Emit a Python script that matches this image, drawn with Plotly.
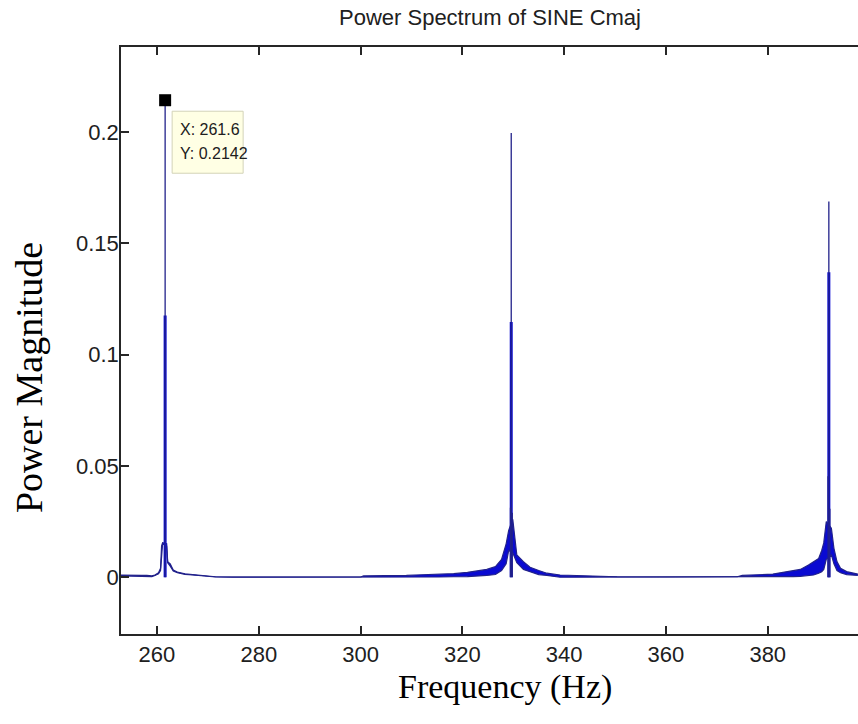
import plotly.graph_objects as go

# ---------------- data ----------------
x_ticks = [260, 280, 300, 320, 340, 360, 380]
y_ticks = [0, 0.05, 0.1, 0.15, 0.2]
y_tick_labels = ["0", "0.05", "0.1", "0.15", "0.2"]
x_range = [252.93, 397.73]
y_range = [-0.0255, 0.2381]

# spectrum envelope: frequency (Hz), lower and upper edge of the drawn band
freq_hz = [252.9, 254.0, 255.0, 256.0, 257.0, 258.0, 259.0, 259.6, 260.3, 260.7, 260.9, 261.1,
           261.9, 262.1, 262.6, 263.2, 264.0, 265.5, 267.0, 269.0, 271.5, 275.0, 285.0, 295.0,
           300.0, 300.6, 305.8, 309.0, 312.0, 315.3, 318.3, 321.0, 324.8, 326.5, 327.7, 328.6,
           329.1, 329.9, 330.7, 332.0, 333.3, 335.0, 336.6, 339.2, 342.0, 345.0, 350.4, 360.0,
           374.0, 375.0, 378.0, 381.0, 383.0, 385.0, 386.4, 388.0, 389.0, 390.0, 390.6, 391.0,
           391.5, 392.5, 393.0, 393.6, 394.3, 395.5, 397.7]
env_lower = [0.0006, 0.0005, 0.0004, 0.0006, 0.0005, 0.0004, 0.0003, 0.0008, 0.0015, 0.0030, 0.0120, 0.0150,
             0.0140, 0.0065, 0.0050, 0.0028, 0.0020, 0.0013, 0.0010, 0.0006, 0.0001, 0.0000, 0.0000, 0.0000,
             -0.0001, -0.0002, -0.0002, -0.0001, 0.0000, 0.0001, 0.0002, 0.0003, 0.0008, 0.0012, 0.0030, 0.0060,
             0.0120, 0.0110, 0.0065, 0.0035, 0.0025, 0.0012, 0.0008, 0.0000, 0.0000, 0.0000, 0.0000, 0.0000,
             0.0000, 0.0000, 0.0001, 0.0002, 0.0002, 0.0003, 0.0004, 0.0008, 0.0010, 0.0018, 0.0025, 0.0035,
             0.0080, 0.0100, 0.0060, 0.0030, 0.0020, 0.0012, 0.0008]
env_upper = [0.0009, 0.0008, 0.0009, 0.0008, 0.0008, 0.0008, 0.0006, 0.0010, 0.0020, 0.0040, 0.0140, 0.0155,
             0.0150, 0.0070, 0.0060, 0.0032, 0.0023, 0.0015, 0.0011, 0.0007, 0.0002, 0.0001, 0.0001, 0.0001,
             0.0001, 0.0006, 0.0006, 0.0008, 0.0011, 0.0014, 0.0016, 0.0022, 0.0035, 0.0048, 0.0080, 0.0150,
             0.0210, 0.0260, 0.0100, 0.0070, 0.0045, 0.0030, 0.0018, 0.0010, 0.0008, 0.0005, 0.0002, 0.0001,
             0.0002, 0.0008, 0.0010, 0.0014, 0.0022, 0.0030, 0.0035, 0.0055, 0.0070, 0.0084, 0.0120, 0.0154,
             0.0250, 0.0220, 0.0130, 0.0070, 0.0040, 0.0025, 0.0014]

# spectral peaks of the C-major notes
peak_freq = [261.6, 329.6, 392.0]
peak_top = [0.2142, 0.1995, 0.1687]
peak_shoulder = [0.1175, 0.1146, 0.1370]
side_freq = [329.45, 329.8, 391.85, 392.2]
side_top = [0.0312, 0.0289, 0.0453, 0.0308]

# data tip
tip_x = 261.6
tip_y = 0.2142

# ---------------- styling ----------------
NAVY = "#22228a"
BLUE = "#0a0ad2"
AXIS = "#262626"
SANS = "Liberation Sans, Arial, Helvetica"
SERIF = "Liberation Serif, Times New Roman"

fig = go.Figure()

fig.add_trace(go.Scatter(x=freq_hz, y=env_lower, mode="lines",
                         line=dict(color=NAVY, width=1.2), hoverinfo="skip"))
fig.add_trace(go.Scatter(x=freq_hz, y=env_upper, mode="lines", fill="tonexty",
                         fillcolor=BLUE, line=dict(color=NAVY, width=1.2), hoverinfo="skip"))

# thick lower part of each peak
sx, sy = [], []
for f, h in zip(peak_freq, peak_shoulder):
    sx += [f, f, None]
    sy += [0, h, None]
fig.add_trace(go.Scatter(x=sx, y=sy, mode="lines", line=dict(color=BLUE, width=3)))

# thin full-height peak lines and side lines
px, py = [], []
for f, h in zip(peak_freq, peak_top):
    px += [f, f, None]
    py += [0, h, None]
for f, h in zip(side_freq, side_top):
    px += [f, f, None]
    py += [0, h, None]
fig.add_trace(go.Scatter(x=px, y=py, mode="lines", line=dict(color=NAVY, width=1.3)))

# data tip box (pixel-sized, anchored at the tip point)
fig.add_shape(type="rect", xref="x", yref="y",
              xsizemode="pixel", ysizemode="pixel", xanchor=tip_x, yanchor=tip_y,
              x0=7, x1=78, y0=-11, y1=-73,
              fillcolor="#ffffe4", line=dict(color="#d3d3b8", width=1), layer="above")

# data tip marker
fig.add_trace(go.Scatter(x=[tip_x], y=[tip_y], mode="markers",
                         marker=dict(symbol="square", size=12, color="black")))

fig.add_annotation(x=tip_x, y=tip_y, xref="x", yref="y", text=f"X: {tip_x}",
                   showarrow=False, xanchor="left", yanchor="middle", xshift=13, yshift=-29,
                   font=dict(family=SANS, size=16, color="#202020"))
fig.add_annotation(x=tip_x, y=tip_y, xref="x", yref="y", text=f"Y: {tip_y}",
                   showarrow=False, xanchor="left", yanchor="middle", xshift=13, yshift=-53,
                   font=dict(family=SANS, size=16, color="#202020"))

# title and axis labels
fig.add_annotation(text="Power Spectrum of SINE Cmaj", xref="paper", yref="paper",
                   x=0.5, y=1, yshift=30, showarrow=False, xanchor="center", yanchor="middle",
                   font=dict(family=SANS, size=22, color="#202020"))
fig.add_annotation(text="Frequency (Hz)", xref="paper", yref="paper",
                   x=0.521, y=0, yshift=-53, showarrow=False, xanchor="center", yanchor="middle",
                   font=dict(family=SERIF, size=34, color="black"))
fig.add_annotation(text="Power Magnitude", xref="paper", yref="paper",
                   x=0, y=0.436, xshift=-92, textangle=-90, showarrow=False,
                   xanchor="center", yanchor="middle",
                   font=dict(family=SERIF, size=38, color="black"))

fig.update_layout(
    width=858, height=724,
    margin=dict(l=121, r=0, t=47, b=90),
    paper_bgcolor="white", plot_bgcolor="white",
    showlegend=False,
    xaxis=dict(range=x_range, tickvals=x_ticks, ticks="inside", ticklen=8, tickwidth=1.5,
               tickcolor=AXIS, showline=True, linecolor=AXIS, linewidth=1.5, mirror="ticks",
               showgrid=False, zeroline=False,
               tickfont=dict(family=SANS, size=22, color="#202020")),
    yaxis=dict(range=y_range, tickvals=y_ticks, ticktext=y_tick_labels, ticks="inside",
               ticklen=8, tickwidth=1.5, tickcolor=AXIS, showline=True, linecolor=AXIS,
               linewidth=1.5, showgrid=False, zeroline=False, ticklabelstandoff=-4,
               tickfont=dict(family=SANS, size=22, color="#202020")),
)

fig.write_html("out.html")
